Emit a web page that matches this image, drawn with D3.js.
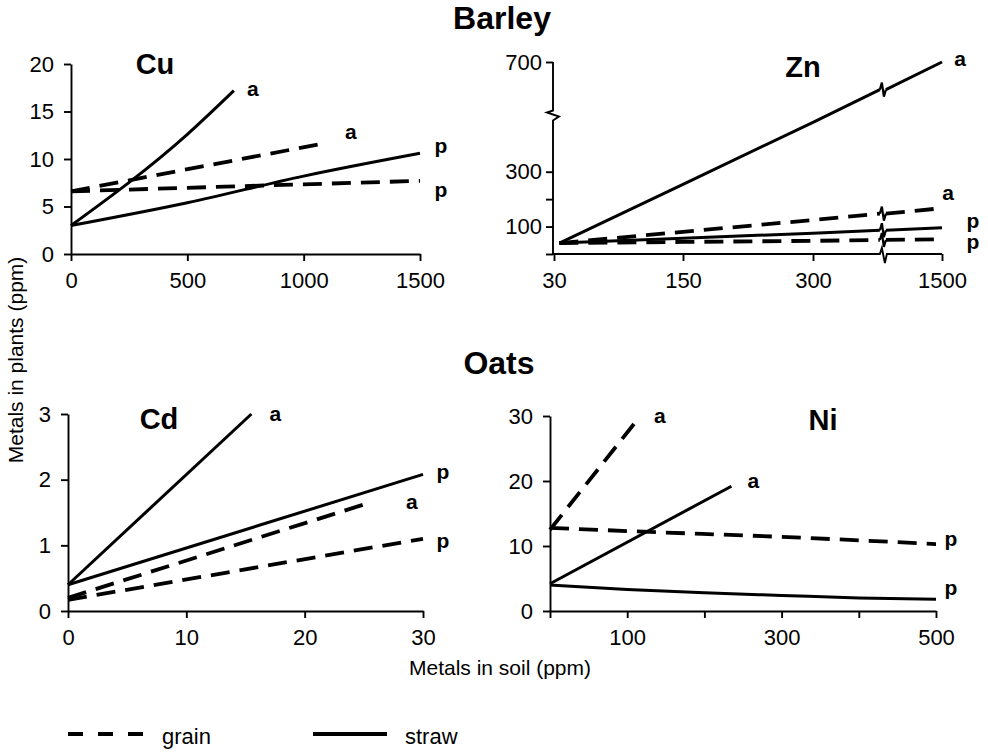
<!DOCTYPE html>
<html>
<head>
<meta charset="utf-8">
<script src="https://cdn.jsdelivr.net/npm/d3@7"></script>
<style>
  html, body { margin: 0; padding: 0; background: #fff; }
  svg { display: block; }
</style>
</head>
<body>
<svg id="chart" width="988" height="755"></svg>
<script>
// ---------- DATA ----------
// Barley, Cu  (soil ppm, plant ppm)
const cuTicksX = [0, 500, 1000, 1500];
const cuTicksY = [0, 5, 10, 15, 20];
const cuStrawA = [[0, 3], [500, 12.6], [700, 17.2]];
const cuStrawP = [[0, 3], [500, 5.4], [1000, 8.2], [1500, 10.6]];
const cuGrainA = [[0, 6.6], [1100, 11.7]];
const cuGrainP = [[0, 6.6], [1500, 7.7]];

// Barley, Zn (broken axes)
const znTicksX = [30, 150, 300, 1500];
const znTicksY = [0, 100, 200, 300, 700];
const znLabelsY = [100, 300, 700];
const znStrawA = [[35, 40], [150, 254], [300, 480], [1500, 700]];
const znGrainA = [[35, 40], [150, 81], [300, 124], [1500, 167]];
const znStrawP = [[35, 40], [150, 57], [300, 76], [1500, 96]];
const znGrainP = [[35, 40], [150, 44], [300, 48], [1500, 54]];
const znBreakX = 950;
const znBreakY = 505;

// Oats, Cd
const cdTicksX = [0, 10, 20, 30];
const cdTicksY = [0, 1, 2, 3];
const cdStrawA = [[0, 0.4], [15.5, 3.0]];
const cdStrawP = [[0, 0.4], [30, 2.08]];
const cdGrainA = [[0, 0.2], [25.5, 1.65]];
const cdGrainP = [[0, 0.17], [30, 1.1]];

// Oats, Ni
const niTicksX = [0, 100, 200, 300, 400, 500];
const niLabelsX = [100, 300, 500];
const niTicksY = [0, 10, 20, 30];
const niGrainA = [[0, 12.5], [115, 29.7]];
const niStrawA = [[0, 4.2], [235, 19.2]];
const niGrainP = [[0, 12.8], [100, 12.3], [300, 11.4], [500, 10.3]];
const niStrawP = [[0, 4], [100, 3.3], [200, 2.8], [300, 2.4], [400, 2.0], [500, 1.8]];

const legendItems = ["grain", "straw"];

// ---------- DRAWING ----------
const FONT = '"Liberation Sans", Arial, Helvetica, sans-serif';
const svg = d3.select("#chart");
svg.append("rect").attr("width", 988).attr("height", 755).attr("fill", "#fff");

const STRAW_W = 3, GRAIN_W = 3.8, DASH = "19,10";

function styleAxis(g) {
  g.selectAll("path.domain").attr("stroke", "#000").attr("stroke-width", 1.9);
  g.selectAll(".tick line").attr("stroke", "#000").attr("stroke-width", 1.9);
  g.selectAll(".tick text").attr("font-family", FONT).attr("font-size", 22).attr("fill", "#000");
}

function drawPanel(p) {
  const g = svg.append("g");
  const x = p.x, y = p.y;
  const xr = x.range(), yr = y.range();
  const fmt = d3.format("d");
  // x axis
  const xa = g.append("g").attr("transform", `translate(0,${yr[0]})`)
    .call(d3.axisBottom(x).tickValues(p.ticksX).tickSize(7).tickSizeOuter(0).tickPadding(11)
      .tickFormat(d => (p.labelsX ? (p.labelsX.includes(d) ? fmt(d) : "") : fmt(d))));
  styleAxis(xa);
  // y axis
  const ya = g.append("g").attr("transform", `translate(${p.yAxisX},0)`)
    .call(d3.axisLeft(y).tickValues(p.ticksY).tickSize(7).tickSizeOuter(0).tickPadding(p.yPad || 10)
      .tickFormat(d => (p.labelsY ? (p.labelsY.includes(d) ? fmt(d) : "") : fmt(d))));
  styleAxis(ya);
  if (p.breakAxes) {
    xa.select("path.domain").remove();
    ya.select("path.domain").remove();
    const bx = x(p.breakX), by = y(p.breakY);
    const y0 = yr[0];
    g.append("path")
      .attr("d", `M${p.yAxisX},${y0} L${bx - 3},${y0} L${bx - 1},${y0 - 6} L${bx + 2},${y0 + 9} L${bx + 4},${y0} L${xr[xr.length - 1]},${y0}`)
      .attr("fill", "none").attr("stroke", "#000").attr("stroke-width", 1.9);
    const ax = p.yAxisX;
    g.append("path")
      .attr("d", `M${ax},${y0} L${ax},${by + 5} L${ax + 6},${by + 1} L${ax - 6},${by - 3} L${ax},${by - 5} L${ax},${yr[yr.length - 1]}`)
      .attr("fill", "none").attr("stroke", "#000").attr("stroke-width", 1.9);
  }
  // title
  g.append("text").attr("x", p.titleX).attr("y", p.titleY)
    .attr("font-family", FONT).attr("font-weight", "bold").attr("font-size", 29)
    .attr("text-anchor", "middle").text(p.title);
  // series
  const line = d3.line().curve(d3.curveMonotoneX);
  p.series.forEach(s => {
    const pts = s.data.map(d => [x(d[0]), y(d[1])]);
    const attrs = el => el.attr("fill", "none").attr("stroke", "#000")
      .attr("stroke-width", s.dashed ? GRAIN_W : STRAW_W)
      .attr("stroke-dasharray", s.dashed ? DASH : null)
      .attr("stroke-linejoin", "round");
    if (p.breakAxes && s.data[s.data.length - 1][0] > p.breakX) {
      const bx = x(p.breakX);
      let byv = pts[0][1];
      for (let i = 1; i < pts.length; i++) {
        if (pts[i][0] >= bx) {
          const t = (bx - pts[i - 1][0]) / (pts[i][0] - pts[i - 1][0]);
          byv = pts[i - 1][1] + t * (pts[i][1] - pts[i - 1][1]);
          break;
        }
      }
      const left = pts.filter(q => q[0] < bx - 3).concat([[bx - 3, byv]]);
      const right = [[bx + 3, byv]].concat(pts.filter(q => q[0] > bx + 3));
      g.append("path").attr("d", d3.line()(left)).call(attrs);
      g.append("path").attr("d", d3.line()(right)).call(attrs);
      g.append("path")
        .attr("d", `M${bx - 3},${byv} L${bx - 1},${byv - 7} L${bx + 1},${byv + 7} L${bx + 3},${byv}`)
        .attr("fill", "none").attr("stroke", "#000").attr("stroke-width", 2.2);
    } else {
      g.append("path").attr("d", line(pts)).call(attrs);
    }
    const end = pts[pts.length - 1];
    g.append("text").attr("x", end[0] + s.ldx).attr("y", end[1] + s.ldy + 5)
      .attr("font-family", FONT).attr("font-weight", "bold").attr("font-size", 21)
      .attr("text-anchor", "middle").text(s.label);
  });
}

drawPanel({
  title: "Cu", titleX: 155, titleY: 74,
  x: d3.scaleLinear().domain([0, 1500]).range([71, 420]),
  y: d3.scaleLinear().domain([0, 20]).range([254, 64]),
  yAxisX: 71, ticksX: cuTicksX, ticksY: cuTicksY,
  series: [
    { data: cuStrawA, dashed: false, label: "a", ldx: 19, ldy: 0 },
    { data: cuGrainA, dashed: true, label: "a", ldx: 24, ldy: -9 },
    { data: cuStrawP, dashed: false, label: "p", ldx: 21, ldy: -5 },
    { data: cuGrainP, dashed: true, label: "p", ldx: 21, ldy: 11 }
  ]
});

drawPanel({
  title: "Zn", titleX: 803, titleY: 77,
  x: d3.scaleLinear().domain(znTicksX).range([554, 683, 813, 942]),
  y: d3.scaleLinear().domain([0, 700]).range([254, 62]),
  yAxisX: 553, ticksX: znTicksX, ticksY: znTicksY, labelsY: znLabelsY, yPad: 4,
  breakAxes: true, breakX: znBreakX, breakY: znBreakY,
  series: [
    { data: znStrawA, dashed: false, label: "a", ldx: 18, ldy: -1 },
    { data: znGrainA, dashed: true, label: "a", ldx: 6, ldy: -13 },
    { data: znStrawP, dashed: false, label: "p", ldx: 31, ldy: -5 },
    { data: znGrainP, dashed: true, label: "p", ldx: 31, ldy: 5 }
  ]
});

drawPanel({
  title: "Cd", titleX: 159, titleY: 429,
  x: d3.scaleLinear().domain([0, 30]).range([68, 423]),
  y: d3.scaleLinear().domain([0, 3]).range([611, 414]),
  yAxisX: 68, ticksX: cdTicksX, ticksY: cdTicksY,
  series: [
    { data: cdStrawA, dashed: false, label: "a", ldx: 24, ldy: 2 },
    { data: cdStrawP, dashed: false, label: "p", ldx: 20, ldy: 0 },
    { data: cdGrainA, dashed: true, label: "a", ldx: 42, ldy: 1 },
    { data: cdGrainP, dashed: true, label: "p", ldx: 20, ldy: 4 }
  ]
});

drawPanel({
  title: "Ni", titleX: 823, titleY: 430,
  x: d3.scaleLinear().domain([0, 500]).range([550, 936]),
  y: d3.scaleLinear().domain([0, 30]).range([611, 416]),
  yAxisX: 550, ticksX: niTicksX, labelsX: niLabelsX, ticksY: niTicksY,
  series: [
    { data: niGrainA, dashed: true, label: "a", ldx: 21, ldy: 0 },
    { data: niStrawA, dashed: false, label: "a", ldx: 22, ldy: -3 },
    { data: niGrainP, dashed: true, label: "p", ldx: 15, ldy: -3 },
    { data: niStrawP, dashed: false, label: "p", ldx: 15, ldy: -9 }
  ]
});

// Section titles
svg.append("text").attr("x", 502).attr("y", 29).attr("text-anchor", "middle")
  .attr("font-family", FONT).attr("font-weight", "bold").attr("font-size", 32).text("Barley");
svg.append("text").attr("x", 499).attr("y", 374).attr("text-anchor", "middle")
  .attr("font-family", FONT).attr("font-weight", "bold").attr("font-size", 32).text("Oats");

// Axis titles
svg.append("text").attr("transform", "translate(23,360) rotate(-90)").attr("text-anchor", "middle")
  .attr("font-family", FONT).attr("font-size", 21).text("Metals in plants (ppm)");
svg.append("text").attr("x", 500).attr("y", 675).attr("text-anchor", "middle")
  .attr("font-family", FONT).attr("font-size", 21).text("Metals in soil (ppm)");

// Legend
const lg = svg.append("g");
lg.append("line").attr("x1", 68).attr("x2", 143).attr("y1", 734).attr("y2", 734)
  .attr("stroke", "#000").attr("stroke-width", 4).attr("stroke-dasharray", "15,15");
lg.append("text").attr("x", 162).attr("y", 744).attr("font-family", FONT).attr("font-size", 22).text(legendItems[0]);
lg.append("line").attr("x1", 313).attr("x2", 387).attr("y1", 734).attr("y2", 734)
  .attr("stroke", "#000").attr("stroke-width", 4);
lg.append("text").attr("x", 405).attr("y", 744).attr("font-family", FONT).attr("font-size", 22).text(legendItems[1]);
</script>
</body>
</html>
